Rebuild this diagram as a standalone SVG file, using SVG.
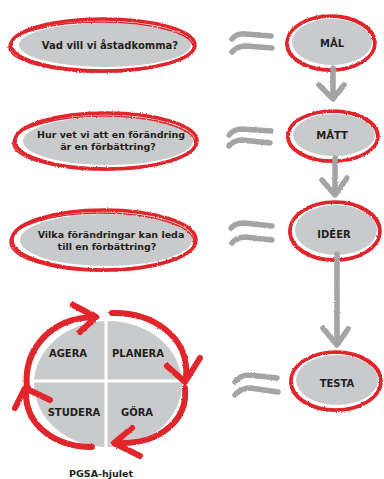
<svg xmlns="http://www.w3.org/2000/svg" width="384" height="479" viewBox="0 0 384 479">
  <style>
    .ring { fill: none; stroke: #e0252b; stroke-width: 3.5; }
    .ring2 { fill: none; stroke: #e0252b; stroke-width: 1.6; }
    .fill { fill: #c9cacc; }
    .txt { font-family: "DejaVu Sans", "Liberation Sans", sans-serif; font-weight: bold; fill: #231f20; text-anchor: middle; }
    .q { font-size: 9.5px; }
    .lbl { font-size: 10px; }
    .brush { fill: none; stroke: #a4a4a4; stroke-width: 5.5; stroke-linecap: round; stroke-linejoin: round; }
    .cycle { fill: none; stroke: #e0252b; stroke-width: 6; stroke-linecap: round; stroke-linejoin: round; }
  </style>
  <defs>
    <filter id="rough" x="-10%" y="-10%" width="120%" height="120%">
      <feTurbulence type="fractalNoise" baseFrequency="0.8" numOctaves="1" seed="4" result="noise"/>
      <feDisplacementMap in="SourceGraphic" in2="noise" scale="2.5" xChannelSelector="R" yChannelSelector="G"/>
    </filter>
  </defs>

  <rect width="384" height="479" fill="#ffffff"/>

  <!-- question ovals -->
  <g id="q-goal">
    <ellipse class="fill" cx="105" cy="45" rx="86" ry="22"/>
    <g filter="url(#rough)">
      <ellipse class="ring" cx="103" cy="45" rx="92" ry="26"/>
      <ellipse class="ring2" cx="101" cy="47" rx="92" ry="25"/>
    </g>
    <text class="txt" x="110" y="49" font-size="10">Vad vill vi åstadkomma?</text>
  </g>

  <g id="q-measure">
    <ellipse class="fill" cx="108" cy="141" rx="85" ry="24"/>
    <g filter="url(#rough)">
      <ellipse class="ring" cx="106" cy="141" rx="91" ry="28"/>
      <ellipse class="ring2" cx="104" cy="143" rx="91" ry="27"/>
    </g>
    <text class="txt q" x="111" y="138">Hur vet vi att en förändring</text>
    <text class="txt q" x="108" y="150">är en förbättring?</text>
  </g>

  <g id="q-ideas">
    <ellipse class="fill" cx="106" cy="240" rx="86" ry="26"/>
    <g filter="url(#rough)">
      <ellipse class="ring" cx="104" cy="240" rx="92" ry="30"/>
      <ellipse class="ring2" cx="102" cy="242" rx="92" ry="29"/>
    </g>
    <text class="txt q" x="111" y="238">Vilka förändringar kan leda</text>
    <text class="txt q" x="107" y="250">till en förbättring?</text>
  </g>

  <!-- step ovals -->
  <g id="n-mal">
    <ellipse class="fill" cx="332" cy="42" rx="40" ry="23"/>
    <g filter="url(#rough)">
      <ellipse class="ring" cx="331" cy="43" rx="44" ry="27"/>
      <ellipse class="ring2" cx="330" cy="44" rx="44" ry="27"/>
    </g>
    <text class="txt lbl" x="332" y="47">MÅL</text>
  </g>

  <g id="n-matt">
    <ellipse class="fill" cx="334" cy="135" rx="41" ry="21"/>
    <g filter="url(#rough)">
      <ellipse class="ring" cx="333" cy="136" rx="45" ry="25"/>
      <ellipse class="ring2" cx="332" cy="137" rx="45" ry="25"/>
    </g>
    <text class="txt lbl" x="332" y="139">MÅTT</text>
  </g>

  <g id="n-ideer">
    <ellipse class="fill" cx="336" cy="230" rx="41" ry="25"/>
    <g filter="url(#rough)">
      <ellipse class="ring" cx="335" cy="231" rx="45" ry="29"/>
      <ellipse class="ring2" cx="334" cy="232" rx="45" ry="29"/>
    </g>
    <text class="txt lbl" x="334" y="238">IDÉER</text>
  </g>

  <g id="n-testa">
    <ellipse class="fill" cx="337" cy="380" rx="41" ry="25"/>
    <g filter="url(#rough)">
      <ellipse class="ring" cx="336" cy="381" rx="45" ry="29"/>
      <ellipse class="ring2" cx="335" cy="382" rx="45" ry="29"/>
    </g>
    <text class="txt lbl" x="337" y="387">TESTA</text>
  </g>

  <!-- connectors: equivalence strokes and downward arrows -->
  <g id="connectors" filter="url(#rough)">
    <path class="brush" d="M232 39 Q237 33 246 34 L271 36"/>
    <path class="brush" d="M232 52 Q237 46 246 46 L272 48"/>

    <path class="brush" d="M229 135 Q234 129 242 129 L271 131"/>
    <path class="brush" d="M229 146 Q234 140 242 140 L270 143"/>

    <path class="brush" d="M231 228 Q236 223 244 223 L272 226"/>
    <path class="brush" d="M232 243 Q237 237 245 237 L272 240"/>

    <path class="brush" d="M235 382 Q240 375 249 375 L277 378"/>
    <path class="brush" d="M235 395 Q241 388 250 388 L278 392"/>

    <path class="brush" d="M333 68 L333 97"/>
    <path class="brush" d="M319 85 L333 99 L344 85"/>

    <path class="brush" d="M335 158 L335 194"/>
    <path class="brush" d="M322 180 L335 195 L347 178"/>

    <path class="brush" d="M337 254 L337 342"/>
    <path class="brush" d="M323 328 L337 345 L348 329"/>
  </g>

  <!-- PGSA wheel -->
  <g id="pgsa-wheel">
    <ellipse class="fill" cx="108" cy="384" rx="74" ry="63"/>
    <rect x="104.5" y="318" width="3" height="132" fill="#ffffff"/>
    <rect x="32" y="379.5" width="154" height="3" fill="#ffffff"/>
    <text class="txt lbl" x="68" y="357">AGERA</text>
    <text class="txt lbl" x="138" y="357">PLANERA</text>
    <text class="txt lbl" x="74" y="416">STUDERA</text>
    <text class="txt lbl" x="137" y="416">GÖRA</text>
    <g filter="url(#rough)">
      <path class="cycle" d="M27 388 C23 350 50 318 94 317"/>
      <path class="cycle" d="M73 305 L96 317 L80 332"/>
      <path class="cycle" d="M112 313 C150 312 190 335 186 378"/>
      <path class="cycle" d="M167 366 L185 382 L200 358"/>
      <path class="cycle" d="M185 388 C188 420 160 445 116 443"/>
      <path class="cycle" d="M132 428 L114 443 L140 456"/>
      <path class="cycle" d="M92 447 C55 447 25 425 26 392"/>
      <path class="cycle" d="M15 408 L25 388 L50 400"/>
    </g>
  </g>

  <g id="caption">
    <text class="txt" x="101" y="477" font-size="9.5">PGSA-hjulet</text>
  </g>
</svg>
